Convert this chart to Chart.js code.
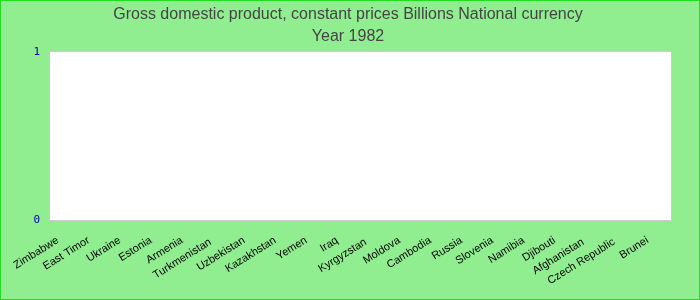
<!DOCTYPE html>
<html lang="en">
<head>
  <meta charset="UTF-8" />
  <title>GDP 1982</title>
  <script src="https://cdn.jsdelivr.net/npm/chart.js"></script>
  <style>
    html, body { margin: 0; padding: 0; }
    #wrap { width: 698px; height: 298px; border: 1px solid #22dd22; background: #90ee90; }
  </style>
</head>
<body>
  <div id="wrap"><canvas id="gdpChart" width="698" height="298"></canvas></div>

  <script>
    const countries = ["Zimbabwe", "East Timor", "Ukraine", "Estonia", "Armenia", "Turkmenistan",
      "Uzbekistan", "Kazakhstan", "Yemen", "Iraq", "Kyrgyzstan", "Moldova", "Cambodia", "Russia",
      "Slovenia", "Namibia", "Djibouti", "Afghanistan", "Czech Republic", "Brunei"];
    // no values reported for 1982
    const gdpValues = [0, 0, 0, 0, 0, 0, 0, 0, 0, 0, 0, 0, 0, 0, 0, 0, 0, 0, 0, 0];
    const yTicks = [0, 1];
    // these sit a little lower to avoid overlap
    const staggered = ["Turkmenistan", "Kyrgyzstan", "Afghanistan", "Czech Republic"];

    const plotBox = {
      id: "plotBox",
      beforeDraw(chart) {
        const { ctx, chartArea: a } = chart;
        ctx.save();
        ctx.fillStyle = "#ffffff";
        ctx.fillRect(a.left, a.top, a.right - a.left, a.bottom - a.top);
        ctx.strokeStyle = "#cccccc";
        ctx.lineWidth = 1;
        ctx.strokeRect(a.left - 0.5, a.top - 0.5, a.right - a.left + 1, a.bottom - a.top + 1);
        ctx.restore();
      }
    };

    new Chart(document.getElementById("gdpChart"), {
      type: "bar",
      data: {
        labels: countries,
        datasets: [{ label: "GDP", data: gdpValues, backgroundColor: "#4472c4" }]
      },
      plugins: [plotBox],
      options: {
        responsive: false,
        animation: false,
        layout: { padding: { left: 24, right: 28, top: 0, bottom: 0 } },
        plugins: {
          legend: { display: false },
          tooltip: { enabled: false },
          title: {
            display: true,
            text: ["Gross domestic product, constant prices Billions National currency", "Year 1982"],
            color: "#444444",
            font: { family: "Liberation Sans", size: 16, weight: "normal", lineHeight: 1.4 },
            padding: { top: 2, bottom: 4 }
          }
        },
        scales: {
          x: {
            grid: { display: false, drawTicks: false },
            border: { display: false },
            ticks: {
              color: "#000000",
              font: { family: "Liberation Sans", size: 11 },
              padding: 9,
              minRotation: 32,
              maxRotation: 32,
              autoSkip: false,
              callback(v, i) {
                const name = countries[i];
                // trailing spaces nudge the right-aligned label back along its slant
                return name + (staggered.includes(name) ? "    " : "   ");
              }
            },
            afterFit(scale) { scale.height = 79; }
          },
          y: {
            min: 0,
            max: 1,
            grid: { display: false, drawTicks: false },
            border: { display: false },
            afterBuildTicks(scale) { scale.ticks = yTicks.map(v => ({ value: v })); },
            ticks: {
              color: "#0000aa",
              padding: 10,
              font: { family: "DejaVu Sans Mono", size: 11 }
            },
            afterFit(scale) { scale.width = 25; }
          }
        }
      }
    });
  </script>
</body>
</html>
